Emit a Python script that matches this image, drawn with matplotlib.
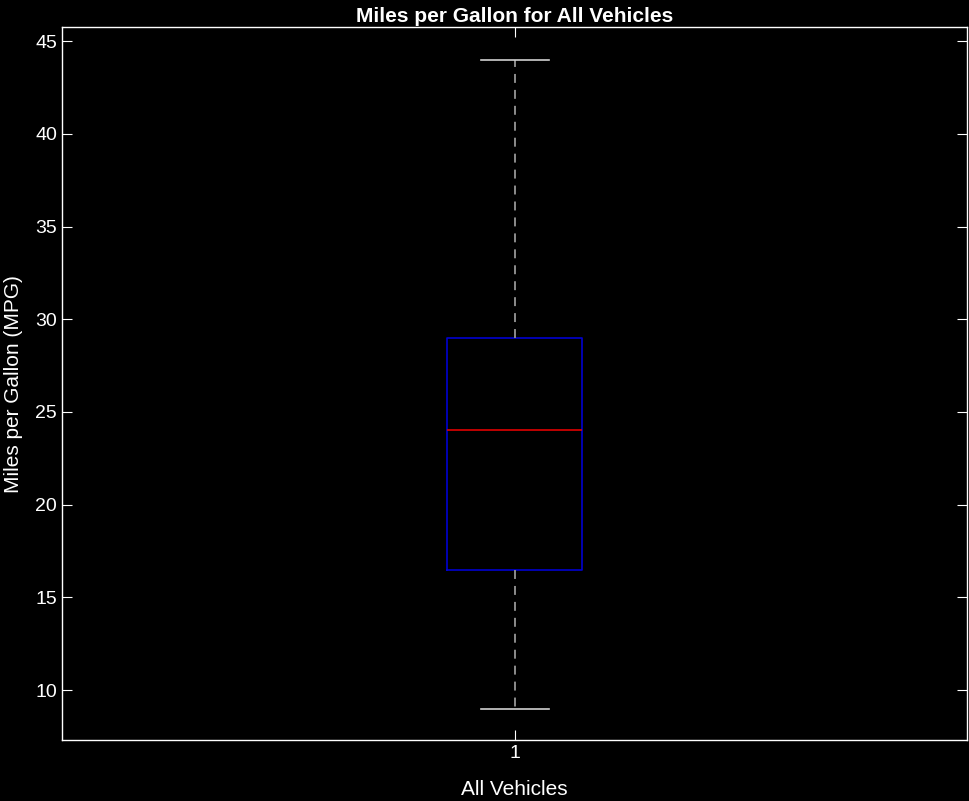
import matplotlib.pyplot as plt

plt.rcParams["font.family"] = ["Liberation Sans", "DejaVu Sans"]

labels = ["1"]
whisker_low = [9.0]
q1 = [16.5]
median = [24.0]
q3 = [29.0]
whisker_high = [44.0]

stats = [
    dict(label=lab, whislo=lo, q1=a, med=m, q3=b, whishi=hi, fliers=[])
    for lab, lo, a, m, b, hi in zip(labels, whisker_low, q1, median, q3, whisker_high)
]

fig = plt.figure(figsize=(9.7, 8.01), dpi=100, facecolor="black")
ax = fig.add_axes([0.064, 0.076, 0.933, 0.890], facecolor="black")

ax.bxp(
    stats,
    positions=[1],
    widths=0.15,
    showfliers=False,
    boxprops=dict(color="#0000d0", linewidth=1.2),
    medianprops=dict(color="#e00000", linewidth=1.2),
    whiskerprops=dict(color="#8c8c8c", linewidth=1.4, linestyle=(0, (4.6, 3.6))),
    capprops=dict(color="#d0d0d0", linewidth=1.2),
    capwidths=0.075,
)

ax.set_xlim(0.5, 1.5)
ax.set_ylim(7.3, 45.75)
ax.set_yticks([10, 15, 20, 25, 30, 35, 40, 45])
ax.set_xticks([1])
ax.set_xticklabels(labels)

for s in ax.spines.values():
    s.set_color("white")
    s.set_linewidth(1.0)
ax.tick_params(colors="white", labelsize=14, direction="in", length=7.5,
               top=True, right=True)

ax.set_title("Miles per Gallon for All Vehicles", color="white",
             fontsize=15, fontweight="bold", pad=4)
ax.set_xlabel("All Vehicles", color="white", fontsize=15, labelpad=13)
ax.set_ylabel("Miles per Gallon (MPG)", color="white", fontsize=15, labelpad=9)

fig.savefig("out.png", dpi=100, facecolor="black")
